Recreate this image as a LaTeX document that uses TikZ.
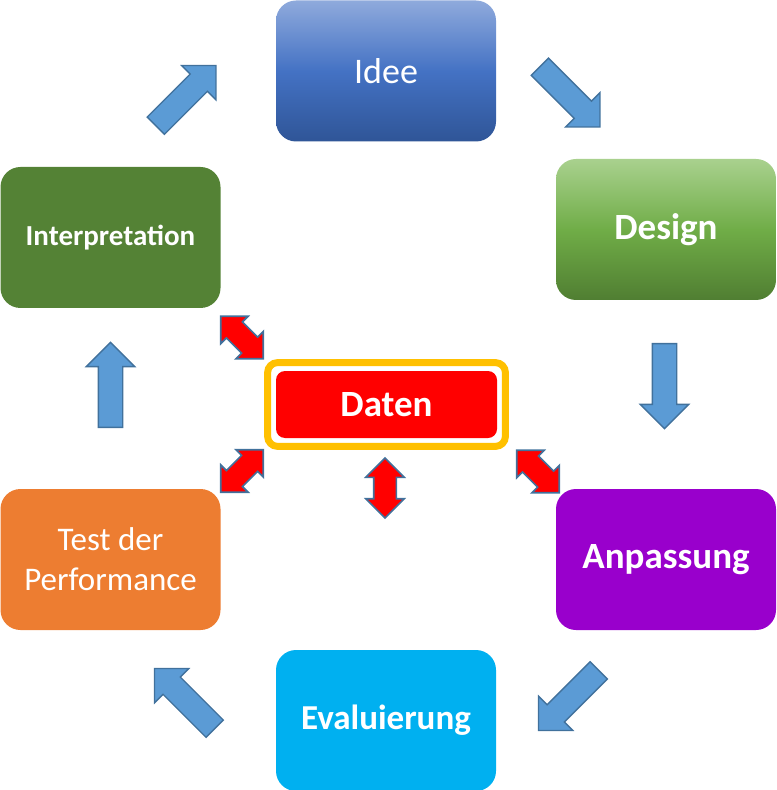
\documentclass[tikz,border=0pt]{standalone}
\usepackage{fontspec}
\setmainfont{Carlito}
\usetikzlibrary{shapes.arrows}
\usetikzlibrary{fit}

\definecolor{ideeTop}{HTML}{8FAADC}
\definecolor{ideeMid}{HTML}{4472C4}
\definecolor{ideeBot}{HTML}{2F5597}
\definecolor{designTop}{HTML}{A9D18E}
\definecolor{designMid}{HTML}{70AD47}
\definecolor{designBot}{HTML}{507E32}
\definecolor{interpGreen}{HTML}{548235}
\definecolor{testOrange}{HTML}{ED7D31}
\definecolor{anpPurple}{HTML}{9900CC}
\definecolor{evalCyan}{HTML}{00B0F0}
\definecolor{datenRim}{HTML}{FFC000}
\definecolor{arrowBlue}{HTML}{5B9BD5}
\definecolor{arrowEdge}{HTML}{41719C}

\tikzset{
  stepbox/.style={rounded corners=10pt, minimum width=110pt, minimum height=70.5pt,
    inner sep=0pt, text=white, align=center},
  flowarrow/.style={single arrow, draw=arrowEdge, fill=arrowBlue, line width=0.7pt,
    inner xsep=0pt, inner ysep=5.75pt, minimum height=42.5pt,
    single arrow head extend=6pt, single arrow tip angle=90},
  dataarrow/.style={double arrow, draw=arrowEdge, fill=red, line width=0.8pt,
    inner xsep=0pt, inner ysep=5.25pt, minimum height=30pt,
    double arrow head extend=4pt, double arrow tip angle=90},
}

\begin{document}
\begin{tikzpicture}[x=0.5pt, y=-0.5pt]

    \useasboundingbox (0,0) rectangle (776,790);

    % the cycle
    \node [stepbox, top color=ideeTop, bottom color=ideeBot, middle color=ideeMid,
      font=\fontsize{18pt}{22pt}\selectfont] (idee) at (386,71) {Idee};
    \node [stepbox, top color=designTop, bottom color=designBot, middle color=designMid,
      font=\fontsize{18.5pt}{22pt}\selectfont\bfseries] (design) at (666,229.5) {Design};
    \node [stepbox, fill=anpPurple, font=\fontsize{18.5pt}{22pt}\selectfont\bfseries] (anpassung) at (666,559.5) {Anpassung};
    \node [stepbox, fill=evalCyan, font=\fontsize{17.5pt}{22pt}\selectfont\bfseries] (evaluierung) at (386,720.5) {Evaluierung};
    \node [stepbox, fill=testOrange, font=\fontsize{16.5pt}{20pt}\selectfont] (test) at (110.5,559.5) {Test der\\Performance};
    \node [stepbox, fill=interpGreen, font=\fontsize{14.5pt}{18pt}\selectfont\bfseries] (interp) at (110.5,237.5) {Interpretation};

    % data in the middle
    \node [rounded corners=4.5pt, fill=red, text=white, minimum width=110.5pt, minimum height=33.5pt,
      inner sep=0pt, font=\fontsize{18.5pt}{22pt}\selectfont\bfseries] (daten) at (386.5,404.5) {Daten};
    \node [draw=datenRim, line width=3.5pt, rounded corners=5pt, inner sep=4pt, fit=(daten)] (datenframe) {};

    % block arrows round the cycle
    \node [flowarrow, rotate=45] (a1) at (181.6,99.9) {};
    \node [flowarrow, rotate=-45] (a2) at (565.6,92.6) {};
    \node [flowarrow, rotate=-90] (a3) at (664.5,380) {};
    \node [flowarrow, rotate=-135] (a4) at (572.9,696.1) {};
    \node [flowarrow, rotate=135] (a5) at (188.9,702.9) {};
    \node [flowarrow, rotate=90] (a6) at (110.5,391) {};

    % arrows to the data
    \node [dataarrow, rotate=-45] (d1) at (242,337.5) {};
    \node [dataarrow, rotate=45] (d2) at (242,471) {};
    \node [dataarrow, rotate=90] (d3) at (385,488) {};
    \node [dataarrow, rotate=-45] (d4) at (538,471.5) {};

\end{tikzpicture}
\end{document}
